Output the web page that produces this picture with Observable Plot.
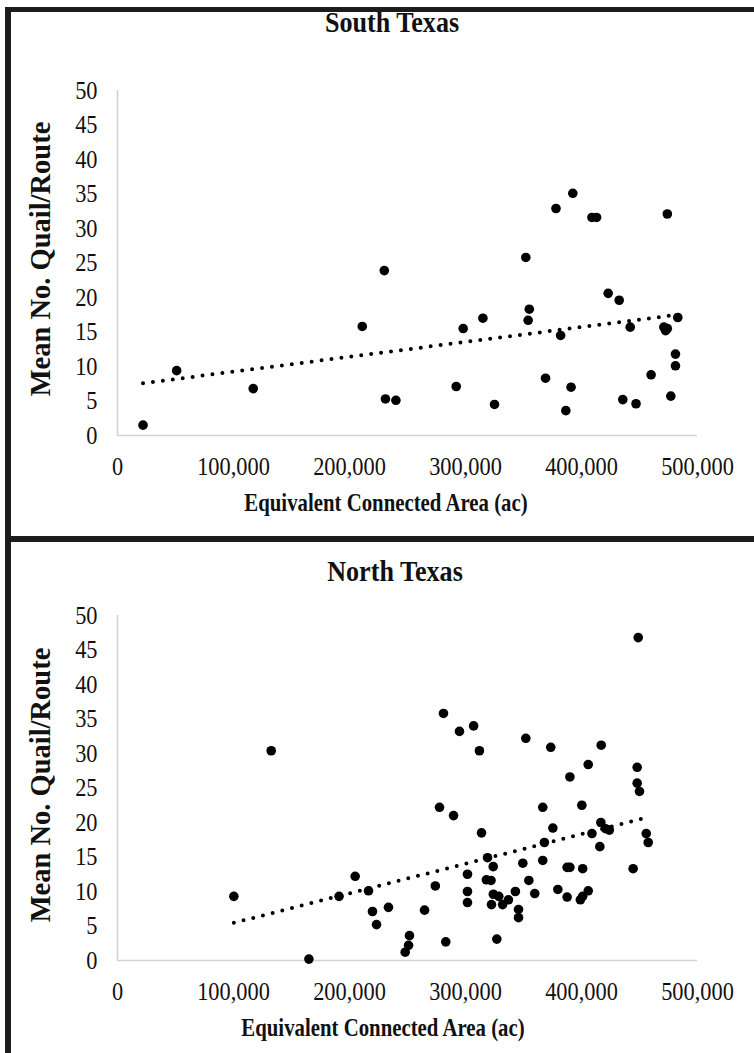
<!DOCTYPE html>
<html><head><meta charset="utf-8">
<script src="https://cdn.jsdelivr.net/npm/d3@7"></script>
<script src="https://cdn.jsdelivr.net/npm/@observablehq/plot@0.6"></script>
<style>
html,body{margin:0;padding:0;background:#fff;}
#page{position:relative;width:754px;height:1053px;overflow:hidden;font-family:"Liberation Serif","Times New Roman",serif;color:#111;}
.abs{position:absolute;white-space:nowrap;line-height:1;}
#page svg{position:absolute;left:0;}
.line{position:absolute;background:#1c1c1c;}
</style></head><body><div id="page"></div>
<script>
// ---- data ----
const panelTitles = ["South Texas", "North Texas"];
const xLabel = "Equivalent Connected Area (ac)";
const yLabel = "Mean No. Quail/Route";
const xTicks = [0, 100000, 200000, 300000, 400000, 500000];
const yTicks = [0, 5, 10, 15, 20, 25, 30, 35, 40, 45, 50];

const southX = [22000, 51000, 117000, 230000, 211000, 231000, 240000, 292000, 298000, 315000,
  325000, 352000, 355000, 354000, 369000, 378000, 382000, 386500, 391000, 392500,
  409000, 413000, 423000, 432500, 435600, 442000, 447000, 460000, 471000, 472500,
  474000, 474000, 477000, 481000, 481000, 483000];
const southY = [1.5, 9.4, 6.8, 23.9, 15.8, 5.3, 5.1, 7.1, 15.5, 17.0,
  4.5, 25.8, 18.3, 16.7, 8.3, 32.9, 14.5, 3.6, 7.0, 35.1,
  31.6, 31.6, 20.6, 19.6, 5.2, 15.7, 4.6, 8.8, 15.7, 15.2,
  15.5, 32.1, 5.7, 11.8, 10.1, 17.1];

const northX = [100300, 132500, 165000, 191000, 204900, 216400, 219800, 223300, 233600, 248000,
  250900, 251700, 264700, 274000, 277600, 281000, 283000, 289700, 294800, 301700,
  301700, 301700, 307000, 312000, 313800, 318000, 319000, 322000, 322400, 323900,
  324000, 327000, 328700, 332000, 337000, 343000, 345700, 345700, 349400, 352000,
  354600, 359700, 366600, 366600, 368000, 373500, 375300, 379600, 387600, 390000,
  387600, 390000, 399000, 400300, 401000, 401000, 405800, 405800, 409000, 415800,
  416700, 417000, 420700, 424000, 444500, 448000, 448000, 448900, 450000, 455800,
  457500];
const northY = [9.3, 30.4, 0.2, 9.3, 12.2, 10.1, 7.1, 5.2, 7.7, 1.2,
  2.2, 3.6, 7.3, 10.8, 22.2, 35.8, 2.7, 21.0, 33.2, 12.5,
  10.0, 8.4, 34.0, 30.4, 18.5, 11.7, 14.9, 11.6, 8.1, 13.6,
  9.6, 3.1, 9.3, 8.1, 8.8, 10.0, 7.4, 6.2, 14.1, 32.2,
  11.6, 9.7, 22.2, 14.5, 17.1, 30.9, 19.2, 10.3, 13.5, 13.5,
  9.2, 26.6, 8.8, 22.5, 9.3, 13.3, 10.1, 28.4, 18.4, 16.5,
  20.0, 31.2, 19.1, 18.9, 13.3, 28.0, 25.7, 46.8, 24.5, 18.4,
  17.1];

// ---- rendering ----
const page = document.getElementById("page");

function squeeze(svg, s) {
  d3.select(svg).selectAll('g[aria-label="x-axis tick label"] text, g[aria-label="y-axis tick label"] text').each(function () {
    const t = d3.select(this);
    const tr = t.attr("transform");
    if (tr) {
      t.attr("transform", tr + ` scale(${s},1)`);
    } else {
      const x = +t.attr("x") || 0, y = +t.attr("y") || 0;
      t.attr("x", null).attr("y", null).attr("transform", `translate(${x},${y}) scale(${s},1)`);
    }
  });
}

function addText(txt, cx, cy, size, bold, tf) {
  const d = document.createElement("div");
  d.className = "abs";
  d.textContent = txt;
  d.style.left = cx + "px";
  d.style.top = cy + "px";
  d.style.fontSize = size + "px";
  d.style.fontWeight = bold ? "bold" : "normal";
  d.style.transform = "translate(-50%,-50%) " + tf;
  page.appendChild(d);
}

function makePanel(xs, ys, top, height, marginTop, marginBottom) {
  const data = xs.map((x, i) => ({x, y: ys[i]}));
  const svg = Plot.plot({
    width: 754, height,
    marginLeft: 117, marginRight: 57, marginTop, marginBottom,
    style: {background: "transparent", fontFamily: "Liberation Serif, Times New Roman, serif", fontSize: "26px", color: "#111", overflow: "visible"},
    x: {domain: [0, 500000], axis: null, label: null},
    y: {domain: [0, 50], axis: null, label: null},
    marks: [
      Plot.ruleY([0], {stroke: "#d2d2d2", strokeWidth: 1.6}),
      Plot.ruleX([0], {stroke: "#d2d2d2", strokeWidth: 1.6}),
      Plot.axisX({ticks: xTicks, tickFormat: d3.format(","), tickSize: 0, tickPadding: 21, label: null, fill: "#111"}),
      Plot.axisY({ticks: yTicks, tickSize: 0, tickPadding: 20, label: null, fill: "#111"}),
      Plot.linearRegressionY(data, {x: "x", y: "y", ci: 0, stroke: "#000", strokeWidth: 4, strokeDasharray: "0 10", strokeLinecap: "round"}),
      Plot.dot(data, {x: "x", y: "y", r: 4.8, fill: "#000", stroke: "none"})
    ]
  });
  svg.style.top = top + "px";
  squeeze(svg, 0.86);
  page.appendChild(svg);
}

makePanel(southX, southY, 0, 540, 90, 105);
makePanel(northX, northY, 540, 513, 75, 93);

// titles and axis titles
addText(panelTitles[0], 392, 22, 30, true, "scaleX(0.87)");
addText(xLabel, 386, 503, 26, true, "scaleX(0.8)");
addText(yLabel, 41, 259, 28.5, true, "rotate(-90deg)");
addText(panelTitles[1], 395, 571, 30, true, "scaleX(0.87)");
addText(xLabel, 383, 1028, 26, true, "scaleX(0.8)");
addText(yLabel, 41, 785, 28.5, true, "rotate(-90deg)");

// panel frame lines
function line(l, t, w, h) {
  const d = document.createElement("div");
  d.className = "line";
  Object.assign(d.style, {left: l + "px", top: t + "px", width: w + "px", height: h + "px"});
  page.appendChild(d);
}
line(5, 7, 749, 5);
line(5, 7, 6, 1046);
line(5, 536, 749, 6);
</script></body></html>
